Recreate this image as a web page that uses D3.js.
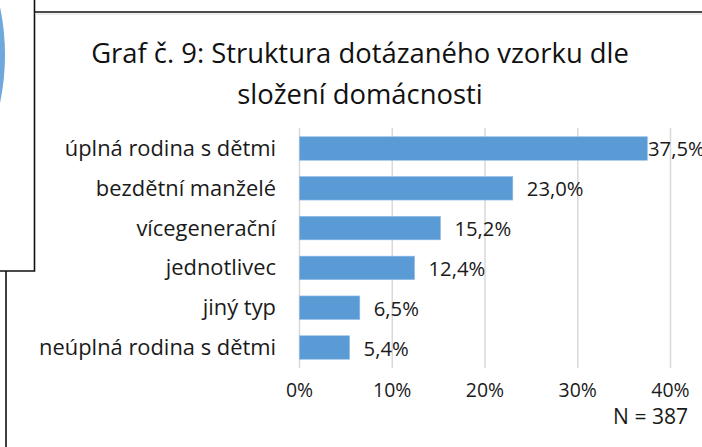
<!DOCTYPE html>
<html>
<head>
<meta charset="utf-8">
<script src="https://cdn.jsdelivr.net/npm/d3@7"></script>
<style>
  html, body { margin: 0; padding: 0; background: #fff; }
  svg { display: block; font-family: "Open Sans", sans-serif; }
</style>
</head>
<body>
<div id="chart"></div>
<script>
const categories = ["úplná rodina s dětmi", "bezdětní manželé", "vícegenerační",
                    "jednotlivec", "jiný typ", "neúplná rodina s dětmi"];
const shares = [37.5, 23.0, 15.2, 12.4, 6.5, 5.4];
const ticks = [0, 10, 20, 30, 40];
const titleLines = ["Graf č. 9: Struktura dotázaného vzorku dle", "složení domácnosti"];
const note = "N = 387";

const W = 702, H = 447;
const svg = d3.select("#chart").append("svg")
    .attr("width", W)
    .attr("height", H);

// scale font so a text gets the wanted width
function fit(sel, target) {
    const base = 20;
    sel.style("font-size", base + "px");
    const w = sel.node().getComputedTextLength();
    const size = base * target / w;
    return size;
}

// pieces of the surrounding page frames
svg.append("circle")
    .attr("cx", -228).attr("cy", 55).attr("r", 233)
    .attr("fill", "#6fa8dc");
svg.append("path")
    .attr("d", "M34.5,0V271H0")
    .attr("fill", "none").attr("stroke", "#111").attr("stroke-width", 1.6);
svg.append("rect")
    .attr("x", 0).attr("y", 0).attr("width", 34).attr("height", 270)
    .attr("fill", "none");
svg.append("line")
    .attr("x1", 35).attr("x2", W).attr("y1", 12).attr("y2", 12)
    .attr("stroke", "#111").attr("stroke-width", 1.6);
svg.append("line")
    .attr("x1", 35).attr("x2", W).attr("y1", 14).attr("y2", 14)
    .attr("stroke", "#ddd").attr("stroke-width", 1);
svg.append("line")
    .attr("x1", 6).attr("x2", 6).attr("y1", 271).attr("y2", H)
    .attr("stroke", "#111").attr("stroke-width", 1.6);

const x = d3.scaleLinear()
    .domain([0, 40])
    .range([299.5, 670.5]);

const y = d3.scaleBand()
    .domain(categories)
    .range([128, 368])
    .paddingInner(0.41)
    .paddingOuter(0.22);

// title
const t1 = svg.append("text").text(titleLines[0]);
const titleSize = fit(t1, 538);
svg.selectAll(".title")
    .data(titleLines)
    .join("text")
    .attr("class", "title")
    .attr("x", 360)
    .attr("y", (d, i) => 63.3 + i * 41)
    .attr("text-anchor", "middle")
    .style("font-size", titleSize + "px")
    .attr("fill", "#111")
    .text(d => d);
t1.remove();

// gridlines
svg.append("g")
    .selectAll("line")
    .data(ticks)
    .join("line")
    .attr("x1", d => x(d)).attr("x2", d => x(d))
    .attr("y1", 128).attr("y2", 368)
    .attr("stroke", "#d9d9d9")
    .attr("stroke-width", 1.5);

// bars
svg.append("g")
    .selectAll("rect")
    .data(shares)
    .join("rect")
    .attr("x", x(0))
    .attr("y", (d, i) => y(categories[i]))
    .attr("width", d => x(d) - x(0))
    .attr("height", y.bandwidth())
    .attr("fill", "#5b9bd5")
    .attr("stroke", "#8fbbe6")
    .attr("stroke-width", 0.6);

// category labels
const c1 = svg.append("text").text(categories[5]);
const catSize = fit(c1, 237);
c1.remove();
svg.append("g")
    .selectAll("text")
    .data(categories)
    .join("text")
    .attr("x", 276)
    .attr("y", d => y(d) + y.bandwidth() / 2 + 7.5)
    .attr("text-anchor", "end")
    .style("font-size", catSize + "px")
    .attr("fill", "#1a1a1a")
    .text(d => d);

// value labels
const fmt = v => v.toFixed(1).replace(".", ",") + "%";
const v1 = svg.append("text").text(fmt(shares[1]));
const valSize = fit(v1, 56.7);
v1.remove();
svg.append("g")
    .selectAll("text")
    .data(shares)
    .join("text")
    .attr("x", d => Math.min(x(d) + 14, x(40) - 22.5))
    .attr("y", (d, i) => y(categories[i]) + y.bandwidth() / 2 + 8)
    .style("font-size", valSize + "px")
    .attr("fill", "#1a1a1a")
    .text(fmt);

// axis tick labels
const a1 = svg.append("text").text("10%");
const tickSize = fit(a1, 38.3);
a1.remove();
svg.append("g")
    .selectAll("text")
    .data(ticks)
    .join("text")
    .attr("x", d => x(d))
    .attr("y", 397.3)
    .attr("text-anchor", "middle")
    .style("font-size", tickSize + "px")
    .attr("fill", "#1a1a1a")
    .text(d => d + "%");

// sample size
const n1 = svg.append("text").text(note);
const noteSize = fit(n1, 75);
n1.attr("x", 688)
    .attr("y", 424)
    .attr("text-anchor", "end")
    .style("font-size", noteSize + "px")
    .attr("fill", "#1a1a1a");
</script>
</body>
</html>
